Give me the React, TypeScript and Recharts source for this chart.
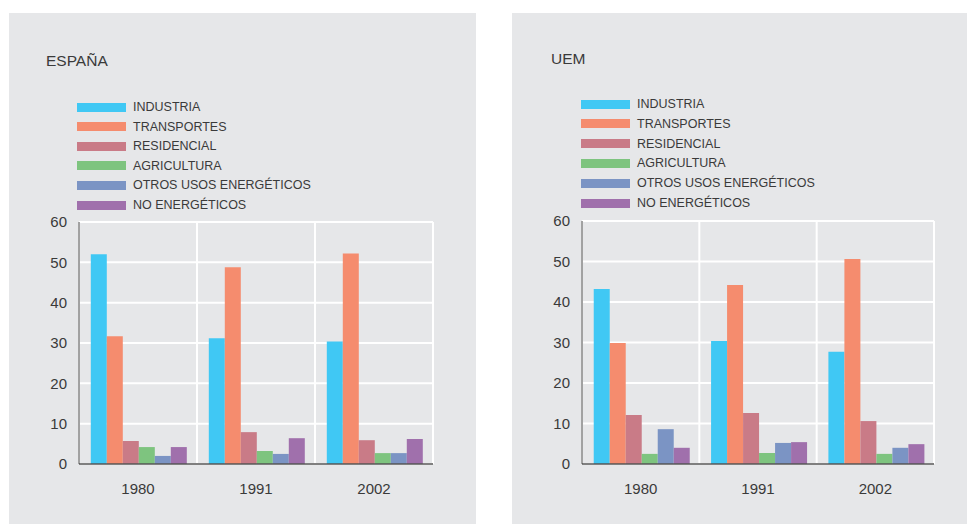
import React from 'react';
import { BarChart, Bar, XAxis, YAxis, CartesianGrid, Legend } from 'recharts';

const years = ['1980', '1991', '2002'];
const seriesKeys = ['industria', 'transportes', 'residencial', 'agricultura', 'otros', 'noEnergeticos'];
const seriesNames = ['INDUSTRIA', 'TRANSPORTES', 'RESIDENCIAL', 'AGRICULTURA', 'OTROS USOS ENERGÉTICOS', 'NO ENERGÉTICOS'];
const seriesColors = ['#40C8F4', '#F58C6E', '#C97B87', '#7EC47F', '#7B94C4', '#A070AC'];
const yTicks = [0, 10, 20, 30, 40, 50, 60];

// ESPAÑA
const esIndustria = [52.0, 31.2, 30.4];
const esTransportes = [31.7, 48.8, 52.2];
const esResidencial = [5.7, 7.9, 5.9];
const esAgricultura = [4.2, 3.2, 2.7];
const esOtros = [2.0, 2.5, 2.7];
const esNoEnergeticos = [4.2, 6.4, 6.2];

// UEM
const uemIndustria = [43.2, 30.4, 27.7];
const uemTransportes = [29.9, 44.2, 50.6];
const uemResidencial = [12.1, 12.6, 10.6];
const uemAgricultura = [2.5, 2.7, 2.5];
const uemOtros = [8.6, 5.2, 4.0];
const uemNoEnergeticos = [4.0, 5.4, 4.9];

const buildData = (cols: number[][]) =>
  years.map((y, i) => {
    const row: any = { year: y };
    seriesKeys.forEach((k, j) => (row[k] = cols[j][i]));
    return row;
  });

const espanaData = buildData([esIndustria, esTransportes, esResidencial, esAgricultura, esOtros, esNoEnergeticos]);
const uemData = buildData([uemIndustria, uemTransportes, uemResidencial, uemAgricultura, uemOtros, uemNoEnergeticos]);

const FONT = '"Liberation Sans", Arial, Helvetica, sans-serif';
const BG = '#E6E7E9';
const TEXT = '#3a3a3a';

// vertical grid lines at category band boundaries
const bandBoundaries = (props: any) => {
  const off = props.offset || {};
  const n = years.length;
  return Array.from({ length: n + 1 }, (_, i) => off.left + (i * off.width) / n);
};

type PanelProps = {
  title: string;
  data: any[];
  left: number;
  width: number;
  margin: { top: number; right: number; bottom: number; left: number };
  titlePos: { x: number; y: number };
  legendPos: { x: number; y: number; step: number };
};

const Panel = ({ title, data, left, width, margin, titlePos, legendPos }: PanelProps) => {
  const height = 511;
  const legendContent = () => (
    <div style={{ position: 'relative', width, height: 220, fontFamily: FONT, color: TEXT }}>
      <div style={{ position: 'absolute', left: titlePos.x, top: titlePos.y - 8, fontSize: 15.5, lineHeight: '16px', whiteSpace: 'nowrap' }}>
        {title}
      </div>
      {seriesNames.map((n, i) => {
        const cy = legendPos.y + i * legendPos.step;
        return (
          <React.Fragment key={n}>
            <div style={{ position: 'absolute', left: legendPos.x, top: cy - 4.5, width: 49, height: 9, background: seriesColors[i] }} />
            <div style={{ position: 'absolute', left: legendPos.x + 56, top: cy - 7, fontSize: 12.5, lineHeight: '14px', whiteSpace: 'nowrap' }}>
              {n}
            </div>
          </React.Fragment>
        );
      })}
    </div>
  );
  return (
    <div style={{ position: 'absolute', left, top: 13, width, height, background: BG }}>
      <BarChart width={width} height={height} data={data} margin={margin} barCategoryGap="10%" barGap={0}>
        <CartesianGrid stroke="#ffffff" strokeWidth={2} verticalCoordinatesGenerator={bandBoundaries} />
        <XAxis
          dataKey="year"
          tickLine={false}
          tickSize={6}
          tickMargin={13}
          height={60}
          axisLine={{ stroke: '#555', strokeWidth: 1.5 }}
          tick={{ fill: TEXT, fontSize: 15, fontFamily: FONT }}
        />
        <YAxis
          domain={[0, 60]}
          ticks={yTicks}
          width={70}
          tickLine={false}
          tickSize={0}
          tickMargin={12}
          axisLine={{ stroke: '#444', strokeWidth: 1 }}
          tick={{ fill: TEXT, fontSize: 15, fontFamily: FONT }}
        />
        <Legend
          layout="vertical"
          align="center"
          verticalAlign="middle"
          wrapperStyle={{ position: 'absolute', left: 0, top: 0, width, height: 220 }}
          content={legendContent}
        />
        {seriesKeys.map((k, i) => (
          <Bar key={k} dataKey={k} name={seriesNames[i]} fill={seriesColors[i]} isAnimationActive={false} />
        ))}
      </BarChart>
    </div>
  );
};

export default function App() {
  return (
    <div style={{ position: 'absolute', left: 0, top: 0, width: 967, height: 524, background: '#ffffff', overflow: 'hidden' }}>
      <Panel
        title="ESPAÑA"
        data={espanaData}
        left={9}
        width={467}
        margin={{ top: 209, right: 43, bottom: 0, left: 0 }}
        titlePos={{ x: 37, y: 48 }}
        legendPos={{ x: 68, y: 94, step: 19.6 }}
      />
      <Panel
        title="UEM"
        data={uemData}
        left={512}
        width={455}
        margin={{ top: 208, right: 33, bottom: 0, left: 0 }}
        titlePos={{ x: 39, y: 46 }}
        legendPos={{ x: 69, y: 91, step: 19.8 }}
      />
    </div>
  );
}
